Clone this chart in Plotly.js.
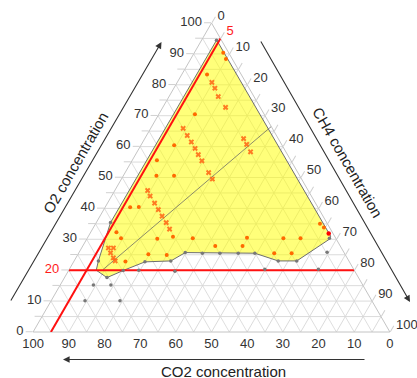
<!DOCTYPE html>
<html>
<head>
<meta charset="utf-8">
<script src="https://cdn.plot.ly/plotly-3.0.1.min.js"></script>
<style>html,body{margin:0;padding:0;background:#fff;}</style>
</head>
<body>
<div id="chart" style="width:417px;height:378px;"></div>
<script>
// Components: a = O2, b = CO2, c = CH4 (percent)
const tickValues = [0,5,10,15,20,25,30,35,40,45,50,55,60,65,70,75,80,85,90,95,100];
const tickLabelsO2  = ['0','','10','','<span style="color:#ff1a1a">20</span>','','30','','40','','50','','60','','70','','80','','90','','100'];
const tickLabelsCO2 = ['0','','10','','20','','30','','40','','50','','60','','70','','80','','90','','100'];
const tickLabelsCH4 = ['0','<span style="color:#ff1a1a">5</span>','10','','20','','30','','40','','50','','60','','70','','80','','90','','100'];

// Shaded (yellow) region boundary
const regionO2  = [94.5, 31.0, 30.0, 23.0, 23.0, 25.5, 25.7, 23.0, 22.7, 19.9, 17.6, 20.0, 23.0, 35.4, 94.5];
const regionCO2 = [1.3, 1.1, 2.0, 14.6, 19.8, 25.1, 44.5, 49.9, 57.3, 64.8, 70.5, 72.3, 70.2, 60.6, 1.3];
const regionCH4 = [4.2, 67.9, 68.0, 62.4, 57.2, 49.4, 29.8, 27.1, 20.0, 15.3, 11.9, 7.7, 6.8, 4.0, 4.2];

// Orange round points
const dotO2  = [90.5, 88.4, 83.3, 70.5, 60.4, 55.6, 50.6, 50.6, 40.4, 40.5, 32.3, 30.3, 30.2, 30.8, 30.3, 25.2, 24.9, 27.8, 27.8, 30.5, 30.3, 30.3, 25.5, 25.5, 35.0, 33.8, 22.8];
const dotCO2 = [1.5, 1.8, 9.6, 19.4, 30.2, 37.5, 40.2, 35.2, 52.6, 50.2, 60.5, 60.2, 50.1, 45.4, 40.1, 55.1, 50.1, 35.0, 27.4, 24.8, 14.7, 9.9, 19.7, 14.8, 2.1, 1.6, 62.8];
const dotCH4 = [8.1, 9.9, 7.1, 10.1, 9.3, 6.9, 9.3, 14.2, 7.0, 9.4, 7.2, 9.5, 19.7, 23.8, 29.6, 19.7, 25.0, 37.1, 44.8, 44.7, 55.0, 59.8, 54.9, 59.7, 62.9, 64.6, 14.5];

// Red point
const redO2 = [31.9], redCO2 = [1.2], redCH4 = [66.9];

// Orange cross points (dilution series)
const crossO2  = [80.8, 78.9, 76.2, 72.7, 65.9, 63.6, 61.5, 59.4, 57.4, 55.4, 51.6, 49.5, 62.6, 60.7, 58.3, 45.8, 44.0, 41.7, 39.6, 37.5, 35.4, 33.3, 27.2, 27.2, 25.6, 24.0, 23.0];
const crossCO2 = [9.5, 9.6, 10.0, 9.7, 25.0, 25.0, 24.9, 24.9, 25.0, 25.0, 25.0, 25.0, 9.7, 9.8, 9.9, 45.0, 45.2, 45.1, 45.1, 45.1, 45.0, 45.1, 65.3, 63.9, 65.5, 65.5, 65.5];
const crossCH4 = [9.7, 11.5, 13.8, 17.6, 9.1, 11.4, 13.6, 15.7, 17.6, 19.6, 23.4, 25.5, 27.7, 29.5, 31.8, 9.2, 10.8, 13.2, 15.3, 17.4, 19.6, 21.6, 7.5, 8.9, 8.9, 10.5, 11.5];

// Gray points
const grayO2  = [94.5, 23.0, 17.6, 19.9, 20.0, 19.7, 20.3, 20.3, 15.2, 15.2, 10.1, 10.1, 22.7, 23.0, 25.7, 25.5, 25.5, 25.5, 25.5, 23.0, 23.0, 25.8, 30.3, 35.4];
const grayCO2 = [1.4, 70.2, 70.5, 64.8, 60.4, 50.4, 24.9, 9.9, 75.5, 70.6, 80.4, 70.6, 57.3, 49.9, 44.5, 39.8, 34.9, 29.8, 25.1, 19.8, 14.6, 4.7, 1.8, 60.6];
const grayCH4 = [4.2, 6.8, 11.9, 15.3, 19.6, 29.9, 54.8, 69.8, 9.3, 14.2, 9.5, 19.3, 20.0, 27.1, 29.8, 34.7, 39.6, 44.8, 49.4, 57.2, 62.4, 69.5, 67.9, 4.0];

// Reference lines
const o2LineO2 = [20, 20], o2LineCO2 = [80, 0], o2LineCH4 = [0, 80];
const ch4LineO2 = [0, 95], ch4LineCO2 = [95, 0], ch4LineCH4 = [5, 5];
const stoichO2 = [20.2, 66.5], stoichCO2 = [70.3, 0], stoichCH4 = [9.5, 33.5];

const W = 417, H = 378;
const traces = [
  {type:'scatterternary', mode:'lines', a:regionO2, b:regionCO2, c:regionCH4,
   fill:'toself', fillcolor:'rgba(255,255,0,0.52)', line:{color:'rgb(110,110,110)', width:1}, hoverinfo:'skip'},
  {type:'scatterternary', mode:'lines', a:stoichO2, b:stoichCO2, c:stoichCH4,
   line:{color:'rgb(110,110,100)', width:0.8}, hoverinfo:'skip'},
  {type:'scatterternary', mode:'lines', a:o2LineO2, b:o2LineCO2, c:o2LineCH4,
   line:{color:'#ff1010', width:2}, hoverinfo:'skip'},
  {type:'scatterternary', mode:'lines', a:ch4LineO2, b:ch4LineCO2, c:ch4LineCH4,
   line:{color:'#ff1010', width:2}, hoverinfo:'skip'},
  {type:'scatterternary', mode:'markers', a:grayO2, b:grayCO2, c:grayCH4,
   marker:{color:'rgb(120,120,120)', size:3.5}},
  {type:'scatterternary', mode:'markers', a:crossO2, b:crossCO2, c:crossCH4,
   marker:{color:'rgba(255,100,20,0.85)', size:5, symbol:'x'}},
  {type:'scatterternary', mode:'markers', a:dotO2, b:dotCO2, c:dotCH4,
   marker:{color:'#ff6a00', size:4}},
  {type:'scatterternary', mode:'markers', a:redO2, b:redCO2, c:redCH4,
   marker:{color:'#ff0000', size:4.5}}
];

function axis(labels, tlen){
  return {
    title:{text:' '},
    tickmode:'array', tickvals:tickValues, ticktext:labels,
    ticks: tlen > 0 ? 'outside' : '', ticklen:tlen, tickcolor:'#d0d0d0', tickwidth:1,
    showgrid:true, gridcolor:'#d6d6d6', gridwidth:0.8,
    showline:true, linecolor:'#c4c4c4', linewidth:1,
    tickfont:{family:'Liberation Sans, Arial, sans-serif', size:13, color:'#333'},
    layer:'below traces', min:0
  };
}

const font = {family:'Liberation Sans, Arial, sans-serif', size:15, color:'#222'};
const layout = {
  width:W, height:H,
  margin:{l:0, r:0, t:0, b:0},
  paper_bgcolor:'#fff',
  showlegend:false,
  font:{family:'Liberation Sans, Arial, sans-serif'},
  ternary:{
    sum:100,
    domain:{x:[33/W, 390/W], y:[(H-332)/H, (H-23)/H]},
    bgcolor:'#fff',
    aaxis:axis(tickLabelsO2, 7),
    baxis:axis(tickLabelsCO2, 0),
    caxis:axis(tickLabelsCH4, 7)
  },
  annotations:[
    {xref:'paper', yref:'paper', x:76/W, y:1-163/H, xanchor:'center', yanchor:'middle', text:'O2 concentration', showarrow:false, textangle:-60, font:font},
    {xref:'paper', yref:'paper', x:348/W, y:1-162/H, xanchor:'center', yanchor:'middle', text:'CH4 concentration', showarrow:false, textangle:60, font:font},
    {xref:'paper', yref:'paper', x:223/W, y:1-371/H, xanchor:'center', yanchor:'middle', text:'CO2 concentration', showarrow:false, font:font},
    {xref:'paper', yref:'paper', x:161.5/W, y:1-42/H, text:'', showarrow:true, axref:'pixel', ayref:'pixel',
     ax:-151.5, ay:260, arrowhead:2, arrowsize:1.2, arrowwidth:1.1, arrowcolor:'#333'},
    {xref:'paper', yref:'paper', x:410/W, y:1-302/H, text:'', showarrow:true, axref:'pixel', ayref:'pixel',
     ax:-150, ay:-262, arrowhead:2, arrowsize:1.2, arrowwidth:1.1, arrowcolor:'#333'},
    {xref:'paper', yref:'paper', x:63/W, y:1-359.5/H, text:'', showarrow:true, axref:'pixel', ayref:'pixel',
     ax:303, ay:0, arrowhead:2, arrowsize:1.2, arrowwidth:1.1, arrowcolor:'#333'}
  ]
};

Plotly.newPlot('chart', traces, layout, {staticPlot:true, displayModeBar:false});
</script>
</body>
</html>
